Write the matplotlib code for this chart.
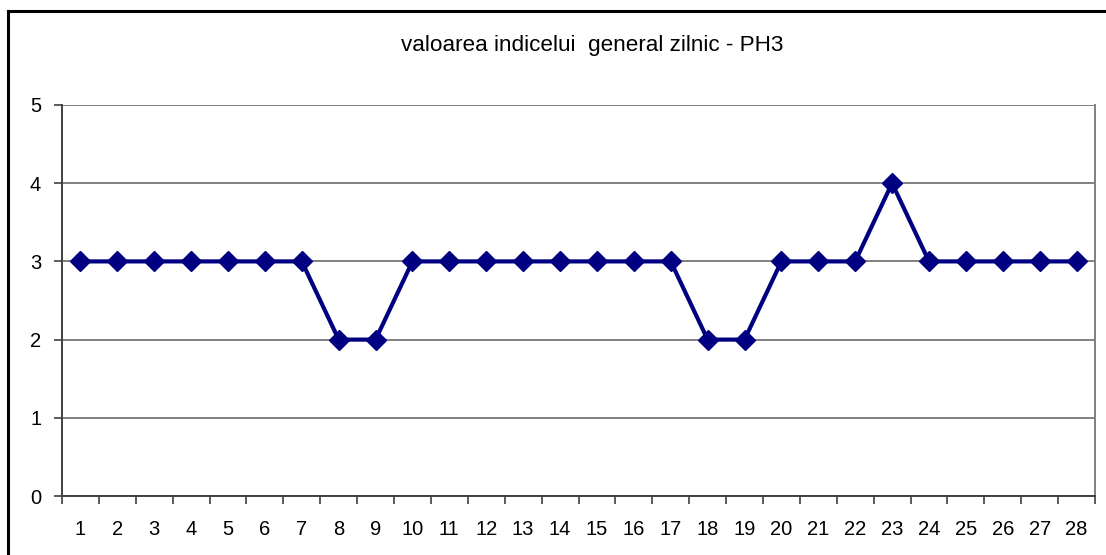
import matplotlib

matplotlib.use("Agg")
import matplotlib.pyplot as plt
import numpy as np
from matplotlib.lines import Line2D

plt.rcParams["font.family"] = ["Liberation Sans", "DejaVu Sans"]

# daily index values, PH3
days = [str(d) for d in range(1, 29)]
values = [3, 3, 3, 3, 3, 3, 3, 2, 2, 3, 3, 3, 3, 3,
          3, 3, 3, 2, 2, 3, 3, 3, 4, 3, 3, 3, 3, 3]
title = "valoarea indicelui  general zilnic - PH3"

fig = plt.figure(figsize=(11.06, 5.55), dpi=100)
ax = fig.add_axes([62 / 1106, 1 - 496 / 555, (1095 - 62) / 1106, (496 - 105) / 555])

x = np.arange(len(days))
ax.plot(x, values, color="#000080", lw=3, marker="D", ms=10,
        markeredgecolor="#000080", markerfacecolor="#000080", zorder=3)

ax.set_xlim(-0.5, len(days) - 0.5)
ax.set_ylim(0, 5)
ax.set_yticks(range(0, 6))
ax.set_xticks(x)
ax.set_xticklabels(days)
ax.set_xticks(np.arange(-0.5, len(days)), minor=True)
ax.tick_params(axis="x", which="major", length=0, pad=17, labelsize=14.5)
ax.tick_params(axis="x", which="minor", length=6, width=1.2, color="#404040", direction="out")
ax.tick_params(axis="y", length=6, width=1.2, color="#404040", pad=9, labelsize=14.5)

ax.yaxis.grid(True, color="#808080", lw=1.4)
ax.set_axisbelow(True)
for side in ("left", "bottom"):
    ax.spines[side].set_color("#404040")
    ax.spines[side].set_linewidth(1.4)
ax.spines["right"].set_color("#808080")
ax.spines["right"].set_linewidth(1.4)
ax.spines["top"].set_visible(False)

fig.text(592 / 1106, 1 - 46 / 555, title, ha="center", va="center", fontsize=16.2)

# chart frame (left and top edges visible in the crop)
fig.add_artist(Line2D([8 / 1106, 8 / 1106], [0, 1 - 11 / 555], color="black", lw=2.2,
                      transform=fig.transFigure))
fig.add_artist(Line2D([8 / 1106, 1], [1 - 11 / 555, 1 - 11 / 555], color="black", lw=2.2,
                      transform=fig.transFigure))

fig.savefig("out.png", dpi=100)
